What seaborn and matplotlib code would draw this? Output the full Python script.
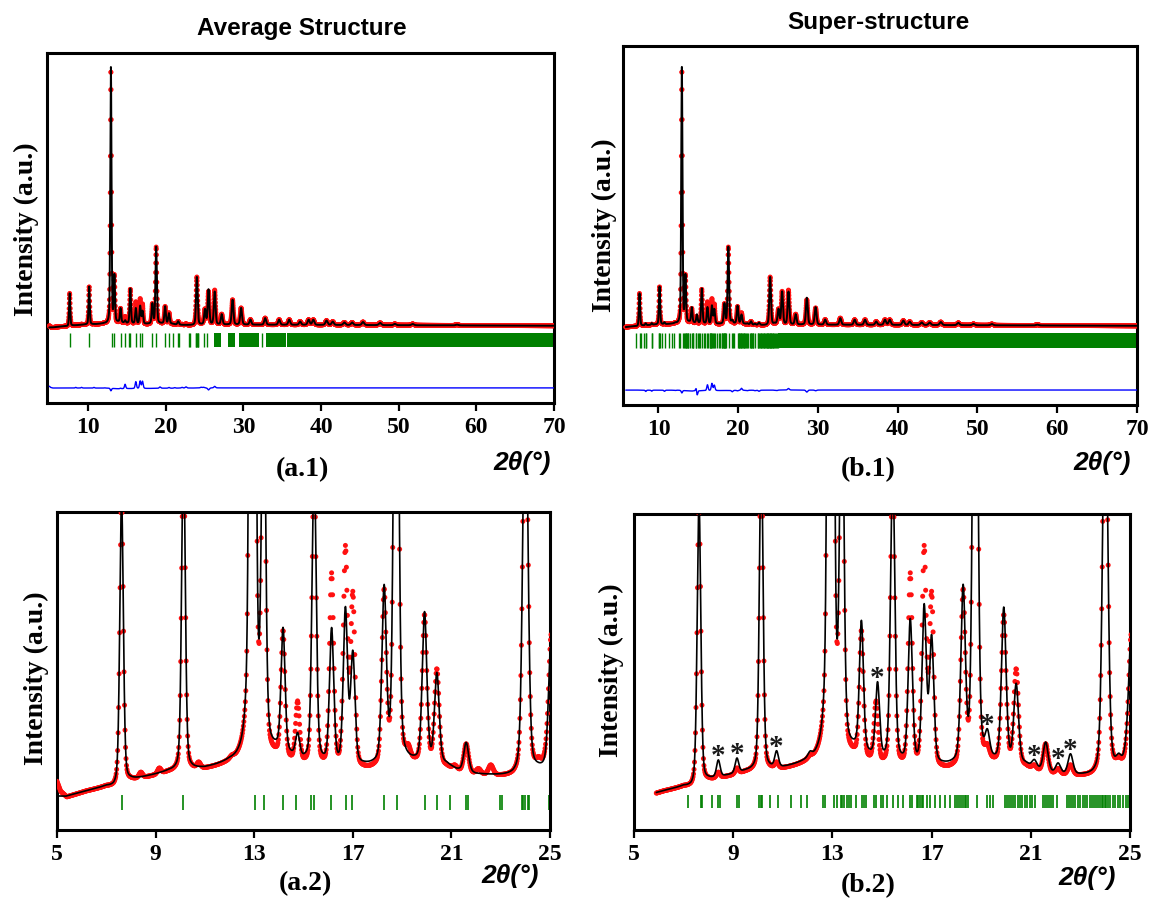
import numpy as np
import pandas as pd
import matplotlib
matplotlib.use("Agg")
import matplotlib.pyplot as plt
import seaborn as sns

# ---------------- data ----------------
# Bragg peaks of the refined pattern: position (2theta, deg) and heights
# (main peak = 100, relative to the flat background)
peak_pos = [7.62, 10.13, 12.93, 13.38, 14.17, 14.76, 15.43, 16.14, 16.70, 17.00,
            18.27, 18.76, 19.91, 20.41, 21.60, 24.00, 25.05, 25.50, 26.30, 27.20,
            28.60, 29.70, 30.90, 32.80, 34.60, 35.90, 37.30, 38.40, 39.00, 40.70,
            41.50, 43.00, 44.00, 45.40, 47.60, 49.50, 51.80, 57.50]
obs_h = [12.8, 14.8, 99.0, 18.0, 5.7, 2.7, 13.6, 8.7, 9.8, 7.7,
         7.7, 30.0, 6.7, 4.3, 1.3, 18.7, 5.8, 12.8, 13.4, 4.0,
         9.7, 6.5, 2.0, 2.6, 2.0, 2.0, 1.3, 2.0, 2.0, 1.7,
         1.3, 1.0, 1.0, 1.2, 0.9, 0.5, 0.5, 0.3]
calc_avg_h = [12.8, 14.8, 100.0, 18.0, 5.5, 1.0, 13.6, 6.0, 6.9, 4.9,
              7.7, 30.0, 6.7, 4.0, 1.3, 18.7, 5.8, 13.6, 12.8, 4.0,
              9.7, 6.5, 2.0, 2.6, 2.0, 2.0, 1.3, 2.0, 2.0, 1.7,
              1.3, 1.0, 1.0, 1.2, 0.9, 0.5, 0.5, 0.3]
calc_sup_h = [12.8, 14.8, 100.0, 18.0, 5.8, 0.0, 13.6, 6.4, 7.0, 5.6,
              7.7, 30.0, 6.9, 3.5, 1.3, 18.7, 5.8, 12.8, 12.8, 4.0,
              10.5, 6.8, 2.0, 2.6, 2.0, 2.0, 1.3, 2.0, 2.0, 1.7,
              1.3, 1.0, 1.0, 1.2, 0.9, 0.5, 0.5, 0.3]
# superstructure reflections (marked with * in panel b.2)
sup_pos = [8.40, 9.15, 10.75, 12.10, 14.82, 19.25, 21.15, 22.10, 22.60, 24.55, 24.85]
sup_calc_h = [0.75, 0.65, 0.70, 0.20, 3.3, 1.05, 0.35, 0.45, 0.90, 0.40, 0.45]
sup_obs_h = [0.25, 0.25, 0.25, 0.10, 0.0, 0.50, 0.20, 0.25, 0.45, 0.25, 0.25]
star_pos = [8.40, 9.15, 10.75, 14.82, 19.25, 21.15, 22.10, 22.60]

# backgrounds (knots)
bg_calc_x = [4.7, 5.35, 6.2, 7.0, 7.3, 8.0, 9.0, 9.5, 11.0, 12.0, 12.5, 13.9, 15.0,
             16.4, 17.7, 19.5, 20.8, 21.2, 22.0, 23.5, 24.5, 30.0, 40.0, 50.0, 70.0]
bg_calc_y = [-0.95, -0.97, -0.72, -0.53, -0.58, -0.25, 0.0, 0.13, 0.26, 0.47, 0.40, 0.95, 0.57,
             0.38, 0.37, 0.52, 0.43, 0.20, 0.0, -0.10, 0.10, 0.10, 0.0, -0.10, -0.30]
bg_obs_x = [5.0, 5.15, 5.4, 6.2, 7.0, 7.3, 8.0, 9.0, 9.5, 11.0, 12.0, 12.5, 13.9, 15.0,
            16.4, 17.7, 19.5, 20.8, 21.2, 22.0, 23.5, 24.5, 30.0, 40.0, 50.0, 70.0]
bg_obs_y = [-0.30, -0.75, -1.00, -0.74, -0.55, -0.60, -0.30, -0.05, 0.08, 0.20, 0.40, 0.35, 0.60, 0.30,
            0.10, 0.15, 0.40, 0.30, 0.10, -0.05, -0.15, 0.10, 0.10, 0.0, -0.10, -0.30]

# reflection markers
refl_avg = [7.62, 10.13, 13.03, 13.39, 14.17, 14.69, 15.29, 15.43, 16.11, 16.71, 16.98,
            18.27, 18.78, 19.92, 20.41, 20.93, 21.60, 21.69, 22.98, 23.07, 23.85, 23.92,
            24.00, 24.09, 24.15, 24.95, 25.35, 32.45]
refl_avg_bands = [(26.25, 27.10), (27.95, 28.85), (29.45, 32.05), (32.95, 35.45), (35.65, 70.0)]
refl_sup = [7.19, 7.69, 7.76, 8.13, 8.39, 8.47, 9.17, 9.22, 10.04, 10.11, 10.17, 10.48, 10.81,
            11.34, 11.72, 11.99, 12.63, 12.69, 13.06, 13.20, 13.33, 13.40, 13.47, 13.58, 13.67,
            13.74, 13.94, 14.20, 14.27, 14.34, 14.68, 14.74, 14.95, 15.05, 15.19, 15.46, 15.66,
            15.86, 16.13, 16.20, 16.40, 16.47, 16.53, 16.60, 16.67, 16.80, 16.94, 17.14, 17.34,
            17.54, 17.74, 17.94, 18.02, 18.10, 18.18, 18.26, 18.34, 18.40, 18.48, 18.82, 19.22,
            19.36, 19.49, 19.96, 20.05, 20.13, 20.22, 20.30, 20.38, 20.47, 20.55, 20.66, 20.76,
            20.86, 20.95, 21.06, 21.17, 21.50, 21.58, 21.64, 21.72, 21.80, 21.90, 22.05, 22.45,
            22.53, 22.62, 22.70, 22.80, 22.90, 23.00, 23.10, 23.18, 23.25, 23.39, 23.47, 23.55,
            23.62, 23.70, 23.78, 23.86, 23.92, 23.98, 24.05, 24.12, 24.20, 24.30, 24.40, 24.50,
            24.60, 24.73, 24.85, 24.93]
refl_sup_bands = [(24.95, 25.70), (25.80, 32.95), (33.05, 70.0)]

x_ticks_full = [10, 20, 30, 40, 50, 60, 70]
x_ticks_zoom = [5, 9, 13, 17, 21, 25]

# ---------------- profile model ----------------
def profile(x, pos, h):
    x = np.asarray(x, float)[:, None]
    p = np.asarray(pos, float)[None, :]
    hh = np.asarray(h, float)[None, :]
    w = 0.085 + 0.0025 * np.clip(p - 10, 0, None)
    d2 = ((x - p) / w) ** 2
    return (hh * (0.3 / (1 + d2) + 0.7 * np.exp(-np.log(2) * d2))).sum(axis=1)

x_obs = np.round(np.arange(5.0, 70.0001, 0.02), 4)
x_calc_a = np.arange(5.0, 70.0001, 0.005)
x_calc_b = np.arange(5.9, 70.0001, 0.005)

obs = (profile(x_obs, peak_pos, obs_h) + profile(x_obs, sup_pos, sup_obs_h)
       + np.interp(x_obs, bg_obs_x, bg_obs_y))

def calc_avg(x):
    return profile(x, peak_pos, calc_avg_h) + np.interp(x, bg_calc_x, bg_calc_y)

def calc_sup(x):
    return (profile(x, peak_pos, calc_sup_h) + profile(x, sup_pos, sup_calc_h)
            + np.interp(x, bg_calc_x, bg_calc_y))

df_obs_a = pd.DataFrame({"tt": x_obs, "I": obs, "diff": obs - calc_avg(x_obs)})
mask_b = x_obs >= 5.9
df_obs_b = pd.DataFrame({"tt": x_obs[mask_b], "I": obs[mask_b],
                         "diff": obs[mask_b] - calc_sup(x_obs[mask_b])})
df_calc_a = pd.DataFrame({"tt": x_calc_a, "I": calc_avg(x_calc_a)})
df_calc_b = pd.DataFrame({"tt": x_calc_b, "I": calc_sup(x_calc_b)})

# ---------------- figure ----------------
sns.set_theme(style="white")
plt.rcParams['font.family'] = ['Liberation Serif', 'DejaVu Serif']
plt.rcParams['font.weight'] = 'bold'
plt.rcParams['text.color'] = 'black'
plt.rcParams['axes.labelcolor'] = 'black'
plt.rcParams['xtick.color'] = 'black'
plt.rcParams['ytick.color'] = 'black'

W, H = 1152, 913
fig = plt.figure(figsize=(W / 100, H / 100), dpi=100)

def px_axes(l, t, r, b):
    return fig.add_axes([l / W, 1 - b / H, (r - l) / W, (b - t) / H])

RED = '#ff1010'
GREEN = '#008000'
BLUE = '#0000ff'

def style_axes(ax, xlim, ylim, ticks):
    ax.set_xlim(*xlim)
    ax.set_ylim(*ylim)
    ax.set_xticks(ticks)
    ax.set_xticklabels([str(t) for t in ticks])
    ax.set_yticks([])
    ax.set_xlabel("")
    ax.set_ylabel("")
    for s in ax.spines.values():
        s.set_linewidth(2.2)
        s.set_color('black')
    ax.tick_params(axis='x', bottom=True, direction='out', length=6, width=1.6,
                   labelsize=17, pad=4, colors='black', labelcolor='black')
    for lab in ax.get_xticklabels():
        lab.set_fontweight('bold')
        lab.set_color('black')
        lab.set_family(['Liberation Serif', 'DejaVu Serif'])

def draw_refl(ax, refl, bands, lo, hi, lw, xmax):
    r = [v for v in refl if v <= xmax]
    ax.vlines(r, lo, hi, color=GREEN, lw=lw, zorder=2)
    for a, b in bands:
        if a < xmax:
            ax.fill_between([a, min(b, xmax)], lo, hi, color=GREEN, lw=0, zorder=2)

# (a.1)
ax1 = px_axes(47, 53, 554, 403)
sns.scatterplot(data=df_obs_a, x="tt", y="I", ax=ax1, s=12, color=RED,
                edgecolor='none', linewidth=0, zorder=3)
sns.lineplot(data=df_calc_a, x="tt", y="I", ax=ax1, color='black', lw=1.4,
             estimator=None, sort=False, zorder=4)
draw_refl(ax1, refl_avg, refl_avg_bands, -8.6, -3.1, 1.0, 70)
ax1.plot(df_obs_a["tt"], df_obs_a["diff"] - 24.6, color=BLUE, lw=1.0, zorder=3)
style_axes(ax1, (4.7, 70), (-30.5, 106.3), x_ticks_full)

# (b.1)
ax2 = px_axes(623, 46, 1137, 405)
sns.scatterplot(data=df_obs_b, x="tt", y="I", ax=ax2, s=12, color=RED,
                edgecolor='none', linewidth=0, zorder=3)
sns.lineplot(data=df_calc_b, x="tt", y="I", ax=ax2, color='black', lw=1.4,
             estimator=None, sort=False, zorder=4)
draw_refl(ax2, refl_sup, refl_sup_bands, -9.0, -3.1, 1.0, 70)
ax2.plot(df_obs_b["tt"], df_obs_b["diff"] - 25.4, color=BLUE, lw=1.0, zorder=3)
style_axes(ax2, (5.55, 70), (-31.25, 109.0), x_ticks_full)

# (a.2)
ax3 = px_axes(57, 512, 550, 830)
za = df_obs_a[df_obs_a.tt <= 25.05]
sns.scatterplot(data=za, x="tt", y="I", ax=ax3, s=13, color=RED,
                edgecolor='none', linewidth=0, zorder=3)
sns.lineplot(data=df_calc_a[df_calc_a.tt <= 25.05], x="tt", y="I", ax=ax3,
             color='black', lw=1.2, estimator=None, sort=False, zorder=4)
draw_refl(ax3, refl_avg, [], -1.58, -0.9, 1.2, 25)
style_axes(ax3, (5, 25), (-2.48, 11.85), x_ticks_zoom)

# (b.2)
ax4 = px_axes(634, 514, 1130, 830)
zb = df_obs_b[df_obs_b.tt <= 25.05]
cb = df_calc_b[df_calc_b.tt <= 25.05]
sns.scatterplot(data=zb, x="tt", y="I", ax=ax4, s=13, color=RED,
                edgecolor='none', linewidth=0, zorder=3)
sns.lineplot(data=cb, x="tt", y="I", ax=ax4, color='black', lw=1.2,
             estimator=None, sort=False, zorder=4)
draw_refl(ax4, refl_sup, [], -1.49, -0.9, 1.2, 25)
style_axes(ax4, (5, 25), (-2.48, 11.76), x_ticks_zoom)
for sp in star_pos:
    yv = float(np.interp(sp, cb["tt"], cb["I"]))
    lo = np.interp(sp - 0.08, cb["tt"], cb["I"])
    hi = np.interp(sp + 0.08, cb["tt"], cb["I"])
    yv = max(yv, lo, hi)
    ax4.annotate('*', xy=(sp, yv), xytext=(0, -3), textcoords='offset points',
                 ha='center', va='baseline', fontsize=21, fontweight='bold',
                 family=['Liberation Serif', 'DejaVu Serif'], color='#1a1a1a', zorder=5)

# ---------------- texts ----------------
def ftext(x, y, s, **kw):
    fig.text(x / W, 1 - y / H, s, color='black', **kw)

ftext(302, 28, "Average Structure", ha='center', va='center', fontsize=17.5,
      fontweight='bold', family=['Liberation Sans', 'DejaVu Sans'])
ftext(878, 22, "Super-structure", ha='center', va='center', fontsize=17.5,
      fontweight='bold', family=['Liberation Sans', 'DejaVu Sans'])

for (x, y) in [(26, 229), (604, 225), (36, 678), (611, 670)]:
    ftext(x, y, "Intensity (a.u.)", ha='center', va='center', rotation=90,
          fontsize=20, fontweight='bold')

for (x, y, s) in [(302, 470, "(a.1)"), (868, 470, "(b.1)"),
                  (305, 884, "(a.2)"), (868, 886, "(b.2)")]:
    ftext(x, y, s, ha='center', va='center', fontsize=20, fontweight='bold')

for (x, y) in [(551, 463), (1131, 463), (539, 876), (1116, 878)]:
    ftext(x, y, "2θ(°)", ha='right', va='center', fontsize=19, fontweight='bold',
          fontstyle='italic', family=['Liberation Sans', 'DejaVu Sans'])

fig.savefig("out.png", dpi=100)
